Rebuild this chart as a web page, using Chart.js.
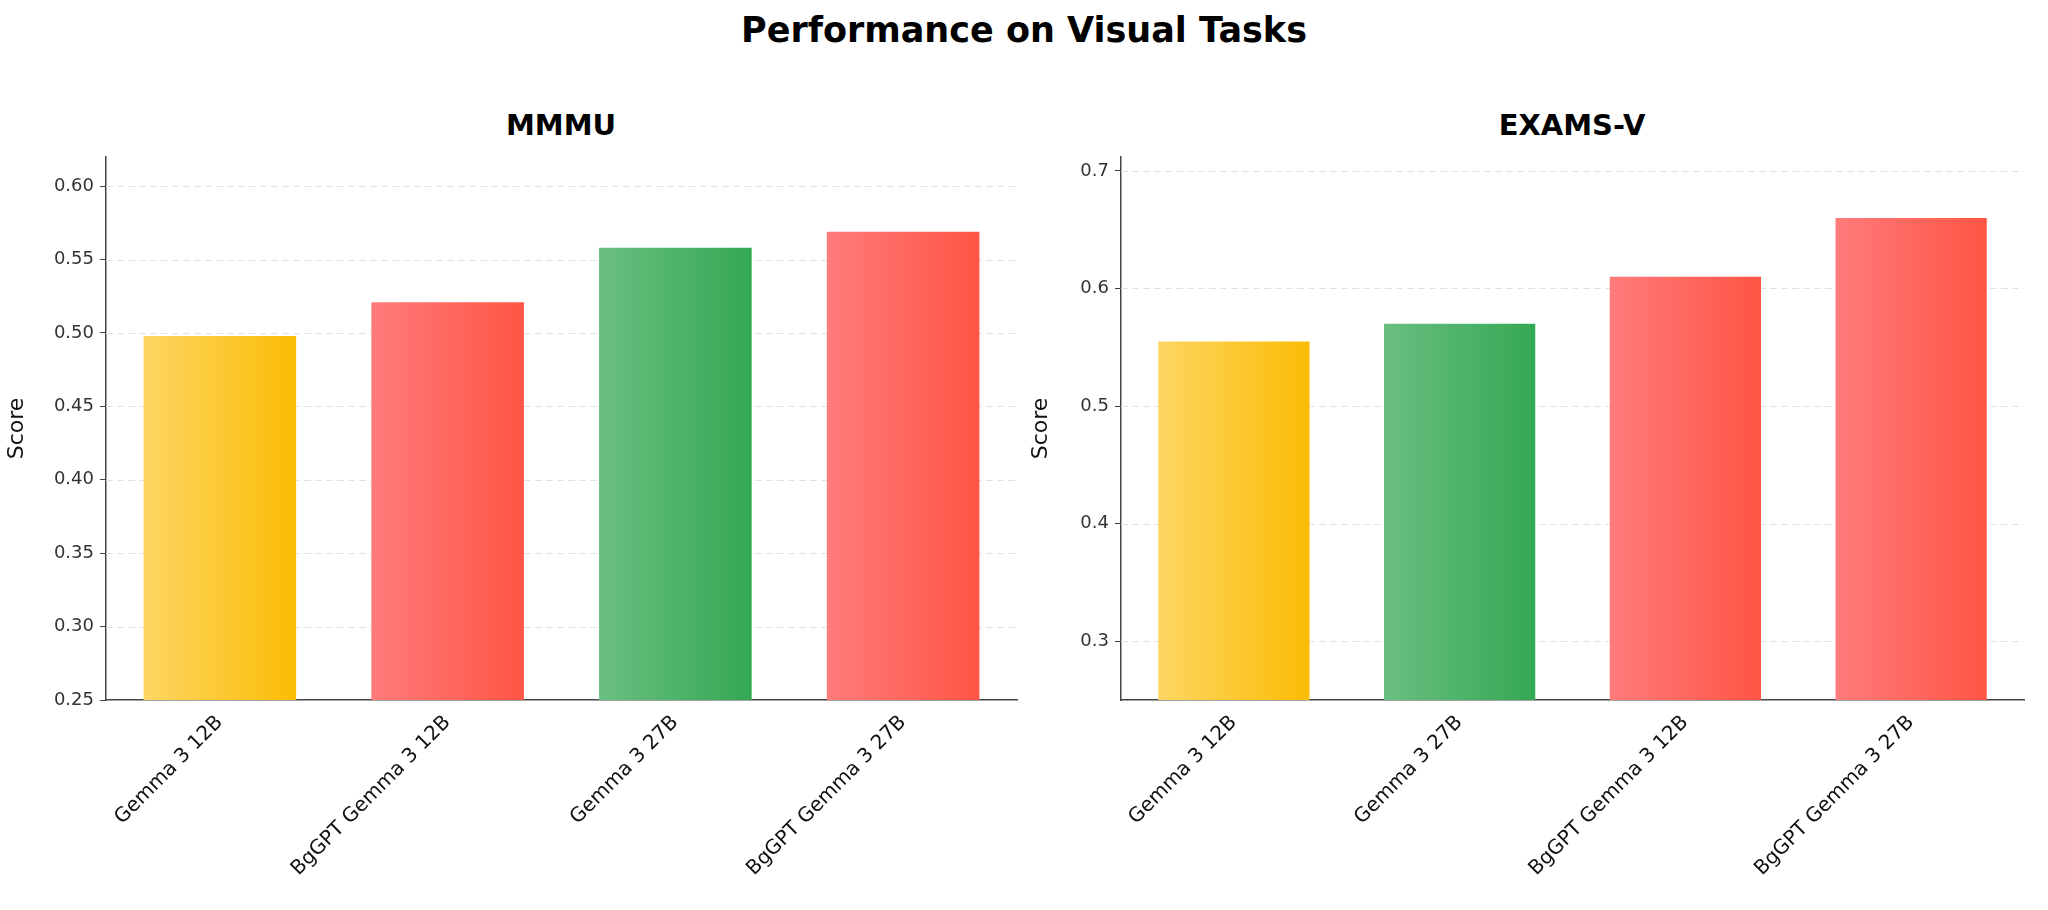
<!DOCTYPE html>
<html><head><meta charset="utf-8">
<script src="https://cdn.jsdelivr.net/npm/chart.js@4.4.1/dist/chart.umd.min.js"></script>
<style>
body{margin:0;width:2048px;height:910px;background:#fff;font-family:"DejaVu Sans",sans-serif;position:relative;overflow:hidden}
.t{position:absolute;font-weight:bold;color:#000;transform:translateX(-50%);white-space:nowrap}
canvas{position:absolute}
</style></head><body>
<div class="t" style="left:1024px;top:10px;font-size:35px">Performance on Visual Tasks</div>
<div class="t" style="left:561px;top:108px;font-size:29px">MMMU</div>
<div class="t" style="left:1572px;top:108px;font-size:29px">EXAMS-V</div>
<div style="position:absolute;left:0;top:140px;width:1024px;height:770px"><canvas id="c1"></canvas></div>
<div style="position:absolute;left:1024px;top:140px;width:1024px;height:770px"><canvas id="c2"></canvas></div>
<script>
const mmmuCategories=["Gemma 3 12B","BgGPT Gemma 3 12B","Gemma 3 27B","BgGPT Gemma 3 27B"];
const mmmuScores=[0.498,0.521,0.558,0.569];
const mmmuKinds=["yellow","red","green","red"];
const examsCategories=["Gemma 3 12B","Gemma 3 27B","BgGPT Gemma 3 12B","BgGPT Gemma 3 27B"];
const examsScores=[0.555,0.570,0.610,0.660];
const examsKinds=["yellow","green","red","red"];
const mmmuTicks=[0.25,0.30,0.35,0.40,0.45,0.50,0.55,0.60];
const examsTicks=[0.3,0.4,0.5,0.6,0.7];
const grads={yellow:["#FDD663","#FBBC04"],red:["#FF7B7B","#FF5544"],green:["#6ABF80","#34A853"]};
const BP=0.67;

function make(id,cats,vals,kinds,ymin,ymax,yt,dec,yw,rp){
  const dashPlugin={id:'dash',beforeDatasetsDraw(chart){
    const ctx=chart.ctx,a=chart.chartArea,y=chart.scales.y;
    ctx.save();ctx.strokeStyle='#e2e2e2';ctx.lineWidth=1.2;ctx.setLineDash([7,4]);
    yt.forEach(v=>{const p=Math.round(y.getPixelForValue(v))+0.5;if(p<a.bottom-2){ctx.beginPath();ctx.moveTo(a.left,p);ctx.lineTo(a.right,p);ctx.stroke();}});
    ctx.restore();
  }};
  new Chart(document.getElementById(id),{
    type:'bar',
    data:{labels:cats,datasets:[{data:vals,categoryPercentage:1,barPercentage:BP,borderWidth:0,
      backgroundColor:(c)=>{
        const ch=c.chart,k=grads[kinds[c.dataIndex]];
        if(!ch.chartArea||!ch.scales.x) return k[1];
        const x=ch.scales.x.getPixelForValue(c.dataIndex),w=ch.scales.x.width/cats.length*BP;
        const g=ch.ctx.createLinearGradient(x-w/2,0,x+w/2,0);
        g.addColorStop(0,k[0]);g.addColorStop(1,k[1]);return g;
      }}]},
    options:{responsive:true,maintainAspectRatio:false,animation:false,
      layout:{padding:{top:14,right:rp,left:0,bottom:0}},
      plugins:{legend:{display:false},tooltip:{enabled:false}},
      scales:{
        x:{afterFit(s){s.height=210;},
          grid:{display:false},
          border:{color:'#444',width:1.5},
          ticks:{autoSkip:false,maxRotation:45,minRotation:45,color:'#111',font:{family:'DejaVu Sans',size:20}}},
        y:{min:ymin,max:ymax,
          afterBuildTicks(s){s.ticks=yt.map(v=>({value:v}));},
          afterFit(s){s.width=yw;},
          border:{color:'#444',width:1.5},
          grid:{color:'rgba(0,0,0,0)',drawTicks:true,tickColor:'#444',tickLength:6},
          title:{display:true,text:'Score',color:'#111',font:{family:'DejaVu Sans',size:22},padding:{bottom:2}},
          ticks:{color:'#333',font:{family:'DejaVu Sans',size:18},padding:6,callback:v=>v.toFixed(dec)}}
      }},
    plugins:[dashPlugin]
  });
}
make('c1',mmmuCategories,mmmuScores,mmmuKinds,0.25,0.62,mmmuTicks,2,106,7);
make('c2',examsCategories,examsScores,examsKinds,0.25,0.712,examsTicks,1,97,24);
</script>
</body></html>
